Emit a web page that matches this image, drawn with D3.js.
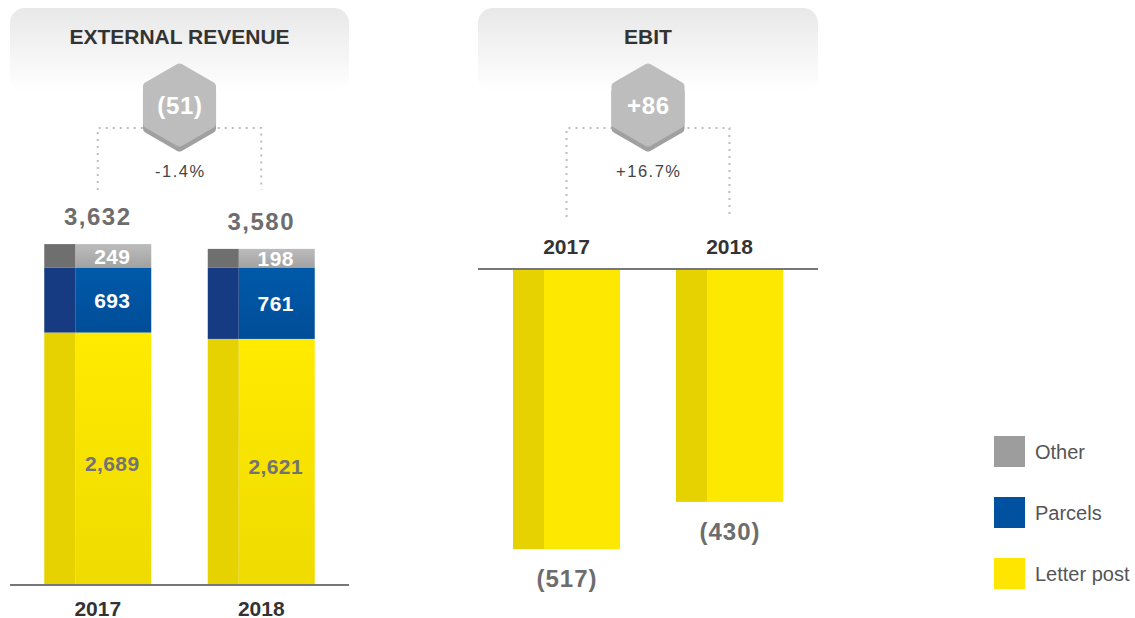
<!DOCTYPE html>
<html>
<head>
<meta charset="utf-8">
<script src="https://cdn.jsdelivr.net/npm/d3@7"></script>
<style>
  body { margin: 0; background: #fff; }
  svg { display: block; font-family: "Liberation Sans", Arial, sans-serif; }
</style>
</head>
<body>
<div class="viz"></div>
<script>
//////////////////////////
// Data
//////////////////////////
const years = ['2017', '2018'];
const letterPost = [2689, 2621];
const parcels = [693, 761];
const other = [249, 198];
const totals = [3632, 3580];
const ebit = [-517, -430];

const revenueDelta = '(51)';
const revenuePct = '-1.4%';
const ebitDelta = '+86';
const ebitPct = '+16.7%';

const seriesNames = ['Other', 'Parcels', 'Letter post'];

//////////////////////////
// Setup
//////////////////////////
const W = 1135, H = 618;

var svg = d3.select('div.viz')
    .append('svg')
    .attr('width', W)
    .attr('height', H);

var defs = svg.append('defs');

function vGrad(id, top, bottom) {
    var g = defs.append('linearGradient')
        .attr('id', id)
        .attr('x1', 0).attr('y1', 0).attr('x2', 0).attr('y2', 1);
    g.append('stop').attr('offset', '0%').attr('stop-color', top);
    g.append('stop').attr('offset', '100%').attr('stop-color', bottom);
}
vGrad('g-panel', '#e8e8e8', '#ffffff');
vGrad('g-yellow', '#ffea00', '#efdb00');
vGrad('g-blue', '#005aa9', '#004d98');
vGrad('g-other', '#bcbcbc', '#a2a2a2');

const styles = {
    'Letter post': { light: 'url(#g-yellow)', dark: '#e6d200', label: '#737373', legend: '#ffe600' },
    'Parcels': { light: 'url(#g-blue)', dark: '#163b82', label: '#ffffff', legend: '#0052a1' },
    'Other': { light: 'url(#g-other)', dark: '#6f6f6f', label: '#ffffff', legend: '#9d9d9d' }
};

// panel header with title, hexagon and dotted bracket
function header(x0, x1, title, delta, pct, xa, xb, bracketBottom) {
    var cx = (x0 + x1) / 2;
    svg.append('rect')
        .attr('x', x0).attr('y', 8)
        .attr('width', x1 - x0).attr('height', 84)
        .attr('rx', 15)
        .attr('fill', 'url(#g-panel)');

    svg.append('text')
        .attr('x', cx).attr('y', 44)
        .attr('text-anchor', 'middle')
        .attr('font-size', 21).attr('font-weight', 'bold')
        .attr('fill', '#333')
        .text(title);

    // dotted bracket
    var bracket = d3.path();
    bracket.moveTo(xa, bracketBottom);
    bracket.lineTo(xa, 128);
    bracket.lineTo(xb, 128);
    bracket.lineTo(xb, bracketBottom);
    svg.append('path')
        .attr('d', bracket.toString())
        .attr('fill', 'none')
        .attr('stroke', '#bdbdbd')
        .attr('stroke-width', 2)
        .attr('stroke-dasharray', '2 5');

    // hexagon (pointy top), rounded via stroke join
    var r = 37, cy = 105;
    var pts = d3.range(6).map(function(i) {
        var a = Math.PI / 3 * i - Math.PI / 2;
        return [cx + r * Math.cos(a), cy + r * Math.sin(a)];
    });
    var hex = d3.line().curve(d3.curveLinearClosed);
    svg.append('path')
        .attr('d', hex(pts.map(function(p) { return [p[0], p[1] + 5]; })))
        .attr('fill', '#a0a0a0').attr('stroke', '#a0a0a0')
        .attr('stroke-width', 9).attr('stroke-linejoin', 'round');
    svg.append('path')
        .attr('d', hex(pts))
        .attr('fill', '#bdbdbd').attr('stroke', '#bdbdbd')
        .attr('stroke-width', 9).attr('stroke-linejoin', 'round');

    svg.append('text')
        .attr('x', cx + 0.5).attr('y', 114)
        .attr('text-anchor', 'middle')
        .attr('font-size', 24).attr('font-weight', 'bold')
        .attr('letter-spacing', 0.7)
        .attr('fill', '#ffffff')
        .text(delta);

    svg.append('text')
        .attr('x', cx + 0.8).attr('y', 177)
        .attr('text-anchor', 'middle')
        .attr('font-size', 16.5)
        .attr('letter-spacing', 1.5)
        .attr('fill', '#444')
        .text(pct);
}

//////////////////////////
// External revenue (stacked)
//////////////////////////
var xRev = d3.scaleBand()
    .domain(years)
    .range([10, 349])
    .paddingInner(0.3456)
    .paddingOuter(0.2095);

var yRev = d3.scaleLinear()
    .domain([0, 3632])
    .range([585, 244]);

header(10, 349, 'EXTERNAL REVENUE', revenueDelta, revenuePct,
    xRev('2017') + xRev.bandwidth() / 2, xRev('2018') + xRev.bandwidth() / 2, 190);

var revRows = years.map(function(y, i) {
    return { year: y, 'Letter post': letterPost[i], 'Parcels': parcels[i], 'Other': other[i], total: totals[i] };
});
var stack = d3.stack().keys(['Letter post', 'Parcels', 'Other']);
var stacked = stack(revRows);

var strip = 31;
var revGroup = svg.append('g').attr('class', 'revenue');

stacked.forEach(function(layer) {
    var st = styles[layer.key];
    var g = revGroup.append('g').attr('class', 'layer');
    g.selectAll('rect.light')
        .data(layer)
        .join('rect')
        .attr('x', function(d) { return xRev(d.data.year) + strip; })
        .attr('y', function(d) { return yRev(d[1]); })
        .attr('width', xRev.bandwidth() - strip)
        .attr('height', function(d) { return yRev(d[0]) - yRev(d[1]); })
        .attr('fill', st.light);
    g.selectAll('rect.dark')
        .data(layer)
        .join('rect')
        .attr('x', function(d) { return xRev(d.data.year); })
        .attr('y', function(d) { return yRev(d[1]); })
        .attr('width', strip)
        .attr('height', function(d) { return yRev(d[0]) - yRev(d[1]); })
        .attr('fill', st.dark);
    g.selectAll('text')
        .data(layer)
        .join('text')
        .attr('x', function(d) { return xRev(d.data.year) + strip + (xRev.bandwidth() - strip) / 2 - 1; })
        .attr('y', function(d) {
            var mid = (yRev(d[0]) + yRev(d[1])) / 2;
            return mid + (layer.key === 'Letter post' ? 12 : 8);
        })
        .attr('text-anchor', 'middle')
        .attr('font-size', 21).attr('font-weight', 'bold')
        .attr('letter-spacing', 0.4)
        .attr('fill', st.label)
        .text(function(d) { return d3.format(',')(d.data[layer.key]); });
});

// totals
revGroup.selectAll('text.total')
    .data(revRows)
    .join('text')
    .attr('class', 'total')
    .attr('x', function(d) { return xRev(d.year) + xRev.bandwidth() / 2; })
    .attr('y', function(d) { return yRev(d['Letter post'] + d['Parcels'] + d['Other']) - 19; })
    .attr('text-anchor', 'middle')
    .attr('font-size', 24).attr('font-weight', 'bold')
    .attr('letter-spacing', 1.5)
    .attr('fill', '#6d6d6d')
    .text(function(d) { return d3.format(',')(d.total); });

// baseline and year labels
svg.append('line')
    .attr('x1', 10).attr('x2', 349)
    .attr('y1', yRev(0)).attr('y2', yRev(0))
    .attr('stroke', '#777').attr('stroke-width', 2);

svg.append('g')
    .attr('transform', 'translate(0,' + yRev(0) + ')')
    .call(d3.axisBottom(xRev).tickSize(0).tickPadding(0))
    .call(function(g) { g.select('.domain').remove(); })
    .selectAll('text')
    .attr('dy', 0).attr('y', 31)
    .attr('font-family', '"Liberation Sans", Arial, sans-serif')
    .attr('font-size', 21).attr('font-weight', 'bold')
    .attr('fill', '#333');

//////////////////////////
// EBIT (negative bars)
//////////////////////////
var xEbit = d3.scaleBand()
    .domain(years)
    .range([478, 818])
    .paddingInner(0.3436)
    .paddingOuter(0.2147);

var yEbit = d3.scaleLinear()
    .domain([0, -517])
    .range([269, 549]);

header(478, 818, 'EBIT', ebitDelta, ebitPct,
    xEbit('2017') + xEbit.bandwidth() / 2, xEbit('2018') + xEbit.bandwidth() / 2, 217);

var ebitRows = years.map(function(y, i) { return { year: y, value: ebit[i] }; });
var ebitGroup = svg.append('g').attr('class', 'ebit');

ebitGroup.selectAll('rect.light')
    .data(ebitRows)
    .join('rect')
    .attr('x', function(d) { return xEbit(d.year) + strip; })
    .attr('y', yEbit(0))
    .attr('width', xEbit.bandwidth() - strip)
    .attr('height', function(d) { return yEbit(d.value) - yEbit(0); })
    .attr('fill', '#fce800');
ebitGroup.selectAll('rect.dark')
    .data(ebitRows)
    .join('rect')
    .attr('x', function(d) { return xEbit(d.year); })
    .attr('y', yEbit(0))
    .attr('width', strip)
    .attr('height', function(d) { return yEbit(d.value) - yEbit(0); })
    .attr('fill', '#e6d200');

ebitGroup.selectAll('text')
    .data(ebitRows)
    .join('text')
    .attr('x', function(d) { return xEbit(d.year) + xEbit.bandwidth() / 2 + 0.5; })
    .attr('y', function(d) { return yEbit(d.value) + 38; })
    .attr('text-anchor', 'middle')
    .attr('font-size', 24).attr('font-weight', 'bold')
    .attr('letter-spacing', 1)
    .attr('fill', '#6d6d6d')
    .text(function(d) { return '(' + Math.abs(d.value) + ')'; });

svg.append('line')
    .attr('x1', 478).attr('x2', 818)
    .attr('y1', yEbit(0)).attr('y2', yEbit(0))
    .attr('stroke', '#777').attr('stroke-width', 2);

svg.append('g')
    .attr('transform', 'translate(0,' + yEbit(0) + ')')
    .call(d3.axisTop(xEbit).tickSize(0).tickPadding(0))
    .call(function(g) { g.select('.domain').remove(); })
    .selectAll('text')
    .attr('dy', 0).attr('y', -15)
    .attr('font-family', '"Liberation Sans", Arial, sans-serif')
    .attr('font-size', 21).attr('font-weight', 'bold')
    .attr('fill', '#333');

//////////////////////////
// Legend
//////////////////////////
var legend = svg.append('g')
    .attr('class', 'legend')
    .attr('transform', 'translate(994,436)');

var legendY = d3.scalePoint().domain(seriesNames).range([0, 122]);

var item = legend.selectAll('g')
    .data(seriesNames)
    .join('g')
    .attr('transform', function(d) { return 'translate(0,' + legendY(d) + ')'; });
item.append('rect')
    .attr('width', 31).attr('height', 31)
    .attr('fill', function(d) { return styles[d].legend; });
item.append('text')
    .attr('x', 41).attr('y', 23)
    .attr('font-size', 20)
    .attr('fill', '#555')
    .text(function(d) { return d; });
</script>
</body>
</html>
